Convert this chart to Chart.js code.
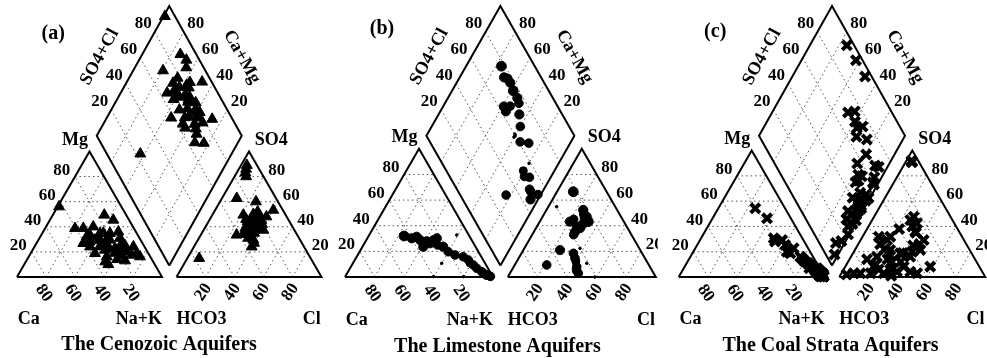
<!DOCTYPE html>
<html>
<head>
<meta charset="utf-8">
<script src="https://cdn.jsdelivr.net/npm/chart.js@4.4.0/dist/chart.umd.min.js"></script>
<style>
  html, body { margin: 0; padding: 0; background: #fff; }
  #wrap { position: relative; width: 987px; height: 358px; overflow: hidden; }
  .panel { position: absolute; top: 0; width: 329px; height: 358px; }
</style>
</head>
<body>
<div id="wrap">
  <div class="panel" style="left:0px"><canvas id="pa" width="329" height="358"></canvas></div>
  <div class="panel" style="left:329px"><canvas id="pb" width="329" height="358"></canvas></div>
  <div class="panel" style="left:658px"><canvas id="pc" width="329" height="358"></canvas></div>
</div>
<script>
const H = Math.sqrt(3) / 2;
const tickValues = [20, 40, 60, 80];

// (a) Cenozoic aquifers, meq %  (Ca = 100 - Mg - NaK, HCO3 = 100 - SO4 - Cl)
const cenoMg  = [56, 38.8, 38.8, 40, 49.4, 45.4, 36, 26.8, 24.1, 29.5, 29.5, 26.8, 24.1, 18.8, 16.2, 16.2, 12.2, 18.8, 34.8, 22.9, 20.1, 17.5, 32.1, 24.1, 34.8, 29.5, 21.5, 31, 33.5, 30, 20, 27, 14, 22, 13, 10, 35, 28, 23, 19, 26, 31, 17, 25];
const cenoNaK = [1, 26.3, 20.6, 32.6, 35.5, 43.7, 51.9, 32.3, 38.3, 42.5, 49.4, 58.8, 68.2, 73.2, 76.7, 53.8, 54.8, 44.4, 39.8, 56.1, 65.6, 70.3, 32, 45.1, 46.7, 39, 50, 55.5, 33.5, 37, 60, 45, 62, 63, 68, 58, 42, 36, 52, 58, 49, 47, 64, 62];
const cenoSO4 = [89, 83, 49.4, 86, 80, 60, 53.3, 62.7, 45.4, 48, 42, 37.4, 40, 48, 44, 29.5, 24.1, 33.5, 46, 38, 35, 36, 31, 42, 44, 27, 40, 45, 50, 14.9, 47, 52, 39, 41, 43, 34, 40, 36, 43, 38, 46, 39, 45, 42];
const cenoCl  = [4, 6, 21.4, 5, 8, 24.8, 40.1, 10.2, 30.3, 33.6, 35, 41.2, 29.5, 38, 27, 38.3, 39.8, 24.7, 25, 33, 36, 29, 34, 33, 33, 40, 36, 36, 28, 8.2, 31, 30, 37, 31, 35, 30, 32, 35, 30, 40, 33, 28, 33, 38];

// (b) Limestone aquifers
const limeMg  = [32, 31.4, 28.9, 27.6, 26.3, 30.2, 23.6, 19.7, 17.2, 15.8, 13.3, 9.4, 6.8, 4.2, 1.6, 0.5, 30.2, 23.6, 28.9, 25, 11, 3, 32.8, 10.7, 0.3, 0.3];
const limeNaK = [23.9, 32.7, 36.2, 41.4, 44.3, 46.9, 54.6, 59.9, 65.7, 72, 76.7, 82, 85.6, 90.3, 94.9, 98, 30, 41.1, 45.2, 50, 79, 92, 59.1, 60, 59.7, 80];
const limeSO4 = [66.5, 47, 52.3, 43.2, 35.3, 49, 41, 45, 33, 39.3, 9.4, 8, 18.5, 2.9, 21, 14.6, 46, 43.2, 38, 44, 12, 5, 54.8, 22.4, 10.7, 0];
const limeCl  = [11, 29.8, 24.8, 32.8, 27.8, 27, 30, 22, 28, 27, 21.6, 42.6, 35.1, 46.2, 24.8, 38.1, 29, 20.4, 30, 31, 40, 44, 5.6, 37.6, 48, 58.8];
const limeTds = [2.6, 2.4, 2.4, 2.6, 2.4, 2.4, 2.4, 2.2, 2.2, 2.2, 2.2, 2.2, 2.2, 2.2, 2.4, 2.2, 2.4, 2.4, 2.2, 2.2, 2.0, 2.2, 0.2, 0.2, 0.2, 0.2];

// (c) Coal strata aquifers
const coalMg  = [54.3, 46.4, 30.6, 29.2, 25.3, 22.7, 18.7, 16, 12.1, 9.5, 6.9, 2.5, 2.9, 0.5, 28, 20, 14, 11, 8, 5, 3, 2, 6, 4, 1.5, 7, 10, 2, 0.5, 1, 3, 5, 2, 0.5, 1.5, 2, 1, 3, 4, 1, 2, 0.5, 5, 1, 3, 2];
const coalNaK = [25.3, 37.3, 49.8, 56.2, 60.3, 67.4, 67.1, 75.3, 80.6, 85.4, 91.3, 97, 95.5, 99, 52, 64, 78, 83, 88, 92, 94, 97, 90, 93, 96, 86, 84, 97.5, 99, 97.5, 96, 94, 95, 97, 98, 96, 98, 95, 94, 97, 98, 99, 91, 96, 97, 95];
const coalSO4 = [91, 92, 91, 47.7, 45.1, 42.5, 8.2, 29.2, 21.4, 31.9, 29.2, 31.9, 21.4, 18.7, 36, 40, 16, 19, 10.8, 8.2, 2.9, 2.9, 2.9, 4.2, 4.2, 2.9, 8.2, 2, 16, 38, 20, 35, 25, 6, 12, 14, 10, 18, 22, 6, 12, 3, 26, 14, 1, 26];
const coalCl  = [4, 3.5, 4.5, 27.2, 26.1, 32, 58.2, 43.2, 44.8, 19, 18.1, 11.1, 24.2, 32.4, 34, 30, 40.6, 34, 29.5, 19.5, 8.4, 13, 29, 37.4, 46.5, 51.8, 40, 4, 17.8, 22, 40, 35, 38, 24, 30, 12, 20, 25, 20, 33, 36, 20, 42, 26, 35, 15];

function cation(mg, nak) { return { x: nak + mg / 2, y: mg * H }; }
function anion(so4, cl) { return { x: 110 + cl + so4 / 2, y: so4 * H }; }
function diamond(g, nak, sc) {
  const u = 1 - nak / 100, a = sc / 100;
  return { x: 105 - 50 * u + 50 * a, y: g.yb + g.hd * (u + a) };
}

const textPlugin = {
  id: 'piperText',
  afterDraw(chart, args, o) {
    const ctx = chart.ctx, sx = chart.scales.x, sy = chart.scales.y, g = o.g;
    const put = (s, p, dx, dy, size, align, rot) => {
      ctx.save();
      ctx.font = 'bold ' + size + 'px "Liberation Serif", "Times New Roman", serif';
      ctx.fillStyle = '#000';
      ctx.textAlign = align;
      ctx.textBaseline = 'middle';
      ctx.translate(sx.getPixelForValue(p.x + dx), sy.getPixelForValue(p.y + dy));
      if (rot) ctx.rotate(rot * Math.PI / 180);
      ctx.fillText(s, 0, 0);
      ctx.restore();
    };
    tickValues.forEach(v => {
      put(String(v), cation(v, 0), -3.2, 4.3, 17, 'right');
      put(String(v), anion(v, 100 - v), 3.2, 4.3, 17, 'left');
      put(String(100 - v), { x: v, y: 0 }, -1.5, -11.2, 17, 'center', 55);
      put(String(v), { x: 110 + v, y: 0 }, -1.5, -10.5, 17, 'center', -55);
      put(String(v), diamond(g, 0, v), -8, 5.8, 17, 'center');
      put(String(v), diamond(g, 100 - v, 100), 8.3, 5.8, 17, 'center');
    });
    put('Mg', cation(100, 0), -1, 7.9, 18, 'right');
    put('SO4', anion(100, 0), 4, 7.9, 18, 'left');
    put('Ca', { x: 0.5, y: -29 }, 0, 0, 18, 'left');
    put('Na+K', { x: 100, y: -29 }, 0, 0, 18, 'right');
    put('HCO3', { x: 110, y: -29 }, 0, 0, 18, 'left');
    put('Cl', { x: 209.5, y: -29 }, 0, 0, 18, 'right');
    put('SO4+Cl', diamond(g, 0, 50), -23, 9.6, 18, 'center', -61);
    put('Ca+Mg', diamond(g, 50, 100), 25, 9.6, 18, 'center', 61);
    put(o.letter, { x: 25, y: 167.6 }, 0, 0, 20, 'center');
    put(o.title, { x: o.titleX, y: -47 }, 0, 0, 20, 'center');
  }
};

function makePiper(id, g, mg, nak, so4, cl, marker, letter, title, titleX) {
  const frame = pts => ({ data: pts, showLine: true, borderColor: '#000', borderWidth: 2,
    pointRadius: 0, borderJoinStyle: 'miter', order: 1 });
  const grid = (a, b) => ({ data: [a, b], showLine: true, borderColor: '#555', borderWidth: 1,
    borderDash: [1.5, 3], pointRadius: 0, order: 2 });

  const ds = [];
  ds.push(Object.assign({ data: mg.map((m, i) => cation(m, nak[i])), order: 0 }, marker));
  ds.push(Object.assign({ data: so4.map((s, i) => anion(s, cl[i])), order: 0 }, marker));
  ds.push(Object.assign({ data: nak.map((n, i) => diamond(g, n, so4[i] + cl[i])), order: 0 }, marker));

  ds.push(frame([cation(0, 0), cation(0, 100), cation(100, 0), cation(0, 0)]));
  ds.push(frame([anion(0, 0), anion(0, 100), anion(100, 0), anion(0, 0)]));
  ds.push(frame([diamond(g, 100, 0), diamond(g, 0, 0), diamond(g, 0, 100), diamond(g, 100, 100), diamond(g, 100, 0)]));

  tickValues.forEach(v => {
    ds.push(grid(cation(v, 0), cation(v, 100 - v)));
    ds.push(grid(cation(0, 100 - v), cation(100 - v, 0)));
    ds.push(grid(cation(0, v), cation(100 - v, v)));
    ds.push(grid(anion(v, 0), anion(v, 100 - v)));
    ds.push(grid(anion(0, 100 - v), anion(100 - v, 0)));
    ds.push(grid(anion(0, v), anion(100 - v, v)));
    ds.push(grid(diamond(g, v, 0), diamond(g, v, 100)));
    ds.push(grid(diamond(g, 0, v), diamond(g, 100, v)));
  });

  new Chart(document.getElementById(id), {
    type: 'scatter',
    data: { datasets: ds },
    plugins: [textPlugin],
    options: {
      responsive: false,
      animation: false,
      events: [],
      layout: { autoPadding: false, padding: 0 },
      plugins: {
        legend: { display: false },
        tooltip: { enabled: false },
        piperText: { g: g, letter: letter, title: title, titleX: titleX }
      },
      scales: {
        x: { type: 'linear', display: false, min: (g.left - g.origin) / g.s, max: (g.left + 329 - g.origin) / g.s },
        y: { type: 'linear', display: false, min: (277 - 358) / g.s, max: 277 / g.s }
      }
    }
  });
}

function geom(left, origin, s) {
  return { left: left, origin: origin, s: s, yb: (277 - 265.5) / s, hd: (265.5 - 6) / (2 * s) };
}

makePiper('pa', geom(0, 17, 1.45), cenoMg, cenoNaK, cenoSO4, cenoCl,
  { pointStyle: 'triangle', pointRadius: 6.3, backgroundColor: '#000', borderColor: '#000', borderWidth: 1 },
  '(a)', 'The Cenozoic Aquifers', 98);

makePiper('pb', geom(329, 345, 1.48), limeMg, limeNaK, limeSO4, limeCl,
  { pointStyle: 'circle', pointRadius: ctx => 1 + 1.5 * limeTds[ctx.dataIndex],
    backgroundColor: '#000', borderColor: '#000', borderWidth: 1 },
  '(b)', 'The Limestone Aquifers', 103);

makePiper('pc', geom(658, 678.7, 1.46), coalMg, coalNaK, coalSO4, coalCl,
  { pointStyle: 'crossRot', pointRadius: 6.5, backgroundColor: '#000', borderColor: '#000', borderWidth: 4 },
  '(c)', 'The Coal Strata Aquifers', 104);
</script>
</body>
</html>
